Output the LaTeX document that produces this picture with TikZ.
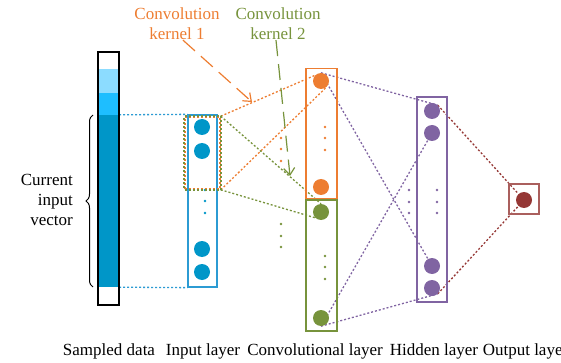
\documentclass[tikz,border=0pt]{standalone}
\usepackage{fontspec}
\setmainfont{Liberation Serif}
\usetikzlibrary{arrows.meta, decorations.pathreplacing, backgrounds}
\definecolor{DataBlue}{HTML}{0096C8}
\definecolor{MidBlue}{HTML}{1EBEFF}
\definecolor{LightBlue}{HTML}{8CDCFF}
\definecolor{InBlue}{HTML}{2C9BD3}
\definecolor{ConvOrange}{HTML}{ED7D31}
\definecolor{ConvGreen}{HTML}{77933C}
\definecolor{HidPurple}{HTML}{8064A2}
\definecolor{OutRed}{HTML}{953735}

\begin{document}
\begin{tikzpicture}[x=1pt, y=-1pt,
    neuron/.style={circle, fill=#1, inner sep=0pt, minimum size=16pt},
    tinydot/.style={circle, fill=#1, inner sep=0pt, minimum size=2.8pt},
    layerbox/.style={draw=#1, line width=1.3pt, inner sep=0pt},
    link/.style={#1, line width=1.3pt, dash pattern=on 2pt off 2pt},
    lbl/.style={font=\fontsize{17}{20}\selectfont, inner sep=0pt}]
    \useasboundingbox (0,0) rectangle (561,363);

    % sampled data
    \fill[LightBlue] (98,69) rectangle (119,93);
    \fill[MidBlue] (98,93) rectangle (119,115);
    \node[fill=DataBlue, inner sep=0pt, minimum width=21pt, minimum height=172pt] (cur) at (108.5,201) {};
    \draw[line width=1.3pt] (98,52) rectangle (119,305);
    \draw[decorate, decoration={brace, amplitude=7pt}, line width=1pt] (93,287) -- (93,115);
    \node[lbl, align=right, anchor=east] (curlab) at (73,200) {Current\\input\\vector};

    % input layer
    \node[layerbox=InBlue, minimum width=29pt, minimum height=172pt] (inbox) at (202.5,201) {};
    \node[neuron=DataBlue] (i1) at (202,127) {};
    \node[neuron=DataBlue] (i2) at (202,151) {};
    \node[neuron=DataBlue] (i3) at (202,249) {};
    \node[neuron=DataBlue] (i4) at (202,272) {};
    \foreach \y in {190,201,213}
        \node[tinydot=DataBlue] (idot\y) at (205,\y) {};

    % kernel window
    \node[draw=ConvOrange, dash pattern=on 2pt off 2pt, line width=1.6pt, inner sep=0pt,
          minimum width=35pt, minimum height=72pt] (kern) at (202.5,153) {};
    \draw[ConvGreen, dash pattern=on 2pt off 2pt, dash phase=2pt, line width=1.6pt]
        (kern.north west) rectangle (kern.south east);

    % convolutional layer
    \node[layerbox=ConvOrange, minimum width=31pt, minimum height=130pt] (convA) at (321.5,133.5) {};
    \node[layerbox=ConvGreen, minimum width=31pt, minimum height=131pt] (convB) at (321.5,265.5) {};
    \node[neuron=ConvOrange] (c1) at (321,81) {};
    \node[neuron=ConvOrange] (c2) at (321,187) {};
    \node[neuron=ConvGreen] (g1) at (321,212) {};
    \node[neuron=ConvGreen] (g2) at (321,318) {};
    \foreach \y in {127,138,150}
        \node[tinydot=ConvOrange] (adot\y) at (325,\y) {};
    \foreach \y in {256,267,279}
        \node[tinydot=ConvGreen] (bdot\y) at (325,\y) {};
    \foreach \y in {138,149,161}
        \node[tinydot=ConvOrange] (kadot\y) at (281,\y) {};
    \foreach \y in {224,236,247}
        \node[tinydot=ConvGreen] (kbdot\y) at (281,\y) {};

    % hidden layer
    \node[layerbox=HidPurple, minimum width=30pt, minimum height=205pt] (hid) at (432,199.5) {};
    \node[neuron=HidPurple] (h1) at (432,111) {};
    \node[neuron=HidPurple] (h2) at (432,133) {};
    \node[neuron=HidPurple] (h3) at (432,266) {};
    \node[neuron=HidPurple] (h4) at (432,288) {};
    \foreach \y in {190,202,213} {
        \node[tinydot=HidPurple] (hldot\y) at (409,\y) {};
        \node[tinydot=HidPurple] (hrdot\y) at (437,\y) {};
    }

    % output layer
    \node[layerbox=OutRed!80, minimum width=30pt, minimum height=30pt] (outbox) at (524,199) {};
    \node[neuron=OutRed] (o1) at (524,200) {};

    % connections
    \begin{scope}[on background layer]
        \draw[link=InBlue] (cur.north east) -- (inbox.north west);
        \draw[link=InBlue] (cur.south east) -- (inbox.south west);
        \draw[link=ConvOrange] (kern.north east) -- (c1.north west);
        \draw[link=ConvOrange] (kern.south east) -- (c1.south east);
        \draw[link=ConvGreen] (kern.north east) -- (g1.north);
        \draw[link=ConvGreen] (kern.south east) -- (g1.south west);
        \draw[link=HidPurple] (c1.north) -- (h1.north east);
        \draw[link=HidPurple] (c1.north) -- (h3);
        \draw[link=HidPurple] (g2.south) -- (h2);
        \draw[link=HidPurple] (g2.south) -- (h4.south east);
        \draw[link=OutRed] (h1.north east) -- (o1);
        \draw[link=OutRed] (h4.south east) -- (o1);
    \end{scope}

    % kernel labels
    \node[lbl, text=ConvOrange, align=center] (k1lab) at (177,24) {Convolution\\kernel 1};
    \node[lbl, text=ConvGreen, align=center] (k2lab) at (278,24) {Convolution\\kernel 2};
    \coordinate (k1tip) at (252,102);
    \coordinate (k2tip) at (290,176);
    \draw[ConvOrange, line width=1.2pt, dash pattern=on 16pt off 8pt,
          -{Straight Barb[length=7pt, width=11pt]}] ([xshift=6pt]k1lab.south) -- (k1tip);
    \draw[ConvGreen, line width=1.2pt, dash pattern=on 16pt off 8pt,
          -{Straight Barb[length=7pt, width=11pt]}] ([xshift=-2pt]k2lab.south) -- (k2tip);

    % layer names
    \node[lbl, anchor=base] (lsamp) at (109,355) {Sampled data};
    \node[lbl, anchor=base] (linput) at (203,355) {Input layer};
    \node[lbl, anchor=base] (lconv) at (315,355) {Convolutional layer};
    \node[lbl, anchor=base] (lhid) at (434,355) {Hidden layer};
    \node[lbl, anchor=base] (lout) at (525.5,355) {Output layer};
\end{tikzpicture}
\end{document}
